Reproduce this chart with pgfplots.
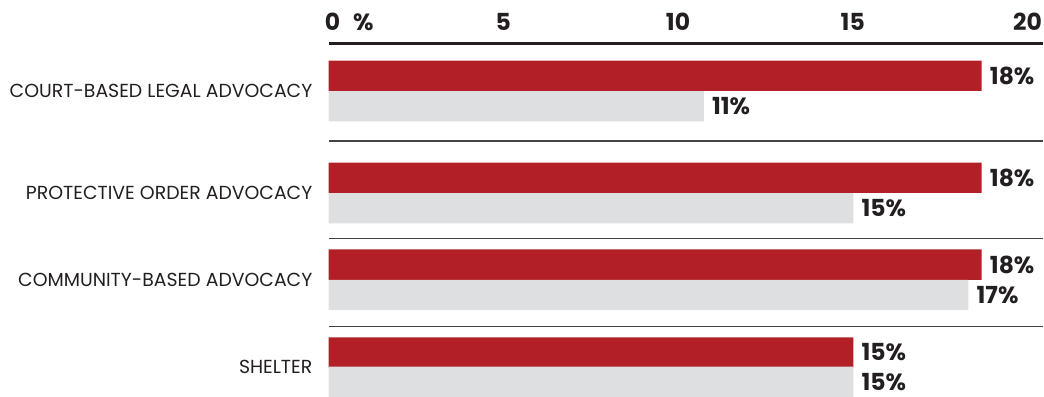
\documentclass[border=0pt]{standalone}
\usepackage{fontspec}
\setmainfont{Poppins}
\usepackage{pgfplots}
\pgfplotsset{compat=1.18}
\definecolor{barred}{HTML}{B31F27}
\definecolor{bargrey}{HTML}{DEDFE0}
\definecolor{ink}{HTML}{231F20}
\definecolor{sepgrey}{HTML}{444444}
\begin{document}
\begin{tikzpicture}[x=1pt,y=1pt]
\path (0,0) rectangle (1044,397);
\begin{axis}[
  at={(329pt,0pt)}, anchor=south west,
  scale only axis, width=715pt, height=353.3pt,
  xmin=0, xmax=20.4286, ymin=-397, ymax=-43.7,
  clip=false,
  xbar, bar width=30.3, bar shift=0pt,
  axis x line*=top, axis y line*=left,
  x axis line style={line width=3pt, ink},
  y axis line style={draw=none},
  major tick length=0pt,
  xtick pos=upper, xticklabel pos=upper,
  xtick={0,5,10,15,20}, xticklabels={\hspace*{8pt}0\rlap{\hspace{0.55em}\%},5,10,15,20},
  xticklabel style={font=\fontsize{23.5}{23.5}\selectfont\bfseries, text=ink, anchor=south, inner sep=0pt, yshift=13pt},
  ytick={-367.7,-280.3,-193.3,-91},
  yticklabels={SHELTER,COMMUNITY-BASED ADVOCACY,PROTECTIVE ORDER ADVOCACY\hspace{5pt},COURT-BASED LEGAL ADVOCACY},
  yticklabel style={font=\fontsize{18.9}{18.9}\selectfont, text=ink, anchor=east, inner sep=0pt, xshift=-16pt},
  extra y ticks={-141.3,-239,-326.7},
  extra y tick labels={},
  extra y tick style={grid=major},
  major grid style={line width=1.3pt, sepgrey},
  every node near coord/.append style={anchor=west, inner sep=0pt, xshift=8pt, font=\fontsize{23.5}{23.5}\selectfont\bfseries, text=ink},
  point meta=explicit symbolic,
  nodes near coords,
]
\addplot[fill=barred, draw=none] coordinates {
  (18.69,-75.9) [18\%]
  (18.69,-178.0) [18\%]
  (18.69,-265.0) [18\%]
  (15.02,-352.9) [15\%]
};
\addplot[fill=bargrey, draw=none] coordinates {
  (10.74,-106.3) [11\%]
  (15.02,-208.6) [15\%]
  (18.31,-295.3) [17\%]
  (15.02,-382.2) [15\%]
};
\end{axis}
\end{tikzpicture}
\end{document}
